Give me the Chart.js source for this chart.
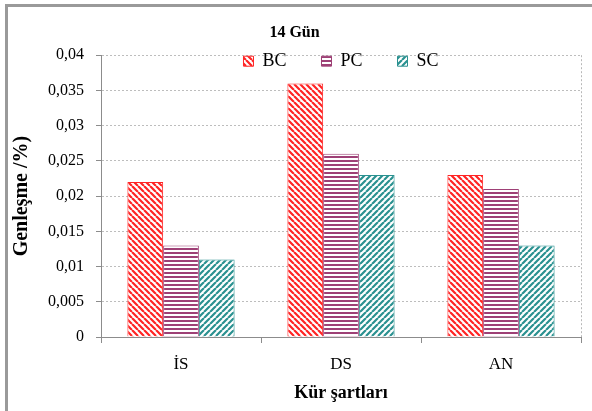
<!DOCTYPE html>
<html>
<head>
<meta charset="utf-8">
<script src="https://cdn.jsdelivr.net/npm/chart.js@4/dist/chart.umd.min.js"></script>
<style>
  html, body { margin: 0; padding: 0; background: #fff; }
  #wrap { position: relative; width: 592px; height: 411px; }
  #frame { position: absolute; left: 5px; top: 4px; right: 0; bottom: 0;
           border-left: 3px solid #9a9a9a; border-top: 3px solid #9a9a9a; pointer-events: none; }
  canvas { display: block; }
</style>
</head>
<body>
<div id="wrap">
  <canvas id="c" width="592" height="411"></canvas>
  <div id="frame"></div>
</div>
<script>
// ---- data ----
const categories = ['İS', 'DS', 'AN'];
const seriesNames = ['BC', 'PC', 'SC'];
const bcValues = [0.022, 0.036, 0.023];
const pcValues = [0.013, 0.026, 0.021];
const scValues = [0.011, 0.023, 0.013];
const yMin = 0, yMax = 0.04, yStep = 0.005;
const chartTitle = '14 Gün';
const xTitle = 'Kür şartları';
const yTitle = 'Genleşme /%)';

// ---- styles ----
const FONT = '"Liberation Serif", "Times New Roman", serif';
const RED = '#ff2424', PURPLE = '#9e4076', TEAL = '#2a9190';

function makePattern(color, kind) {
  const s = kind === 'h' ? 4 : 6;
  const c = document.createElement('canvas');
  c.width = s; c.height = s;
  const x = c.getContext('2d');
  x.fillStyle = '#fff';
  x.fillRect(0, 0, s, s);
  x.strokeStyle = color;
  x.fillStyle = color;
  x.lineWidth = 2.2;
  if (kind === 'h') {
    x.fillRect(0, 0, s, 2);
  } else {
    x.beginPath();
    for (let k = -1; k <= 1; k++) {
      if (kind === 'back') { x.moveTo(k * s, 0); x.lineTo(k * s + s, s); }
      else { x.moveTo(k * s, s); x.lineTo(k * s + s, 0); }
    }
    x.stroke();
  }
  return x.createPattern(c, 'repeat');
}

// legend sits inside the top of the plot area (as in the original), without taking layout room
const inPlotLegend = {
  id: 'inPlotLegend',
  beforeLayout(chart) {
    const lg = chart.legend;
    if (lg && !lg._inPlot) {
      const fit = lg.fit.bind(lg);
      lg.fit = function () { fit(); this.height = 0; };
      lg._inPlot = true;
    }
  },
  afterLayout(chart) {
    const lg = chart.legend;
    if (!lg) return;
    const pad = lg.options.labels.padding;
    const fs = lg.options.labels.font.size;
    const top = chart.chartArea.top + 6 - pad - fs / 2;
    lg.top = top;
    lg.height = 2 * pad + fs;
    lg.bottom = top + lg.height;
  },
  beforeDatasetsDraw(chart) {
    const {ctx, chartArea} = chart;
    ctx.save();
    ctx.strokeStyle = '#b8b8b8';
    ctx.lineWidth = 1;
    ctx.setLineDash([2, 2]);
    ctx.beginPath();
    ctx.moveTo(chartArea.right + 0.5, chartArea.top);
    ctx.lineTo(chartArea.right + 0.5, chartArea.bottom);
    ctx.stroke();
    ctx.restore();
  }
};

const fmt = v => (Math.round(v * 1000) / 1000).toString().replace('.', ',');

new Chart(document.getElementById('c'), {
  type: 'bar',
  data: {
    labels: categories,
    datasets: [
      { label: seriesNames[0], data: bcValues, backgroundColor: makePattern(RED, 'back'), borderColor: RED, borderWidth: 1 },
      { label: seriesNames[1], data: pcValues, backgroundColor: makePattern(PURPLE, 'h'), borderColor: PURPLE, borderWidth: 1 },
      { label: seriesNames[2], data: scValues, backgroundColor: makePattern(TEAL, 'fwd'), borderColor: TEAL, borderWidth: 1 }
    ]
  },
  options: {
    responsive: false,
    animation: false,
    layout: { padding: { left: 8, right: 11, top: 0, bottom: 0 } },
    datasets: { bar: { categoryPercentage: 0.67, barPercentage: 1.0 } },
    plugins: {
      title: {
        display: true, text: chartTitle, color: '#000',
        font: { family: FONT, size: 16, weight: 'bold' },
        padding: { top: 23, bottom: 13 }
      },
      legend: {
        position: 'top', align: 'center', fullSize: false,
        labels: {
          boxWidth: 10, boxHeight: 10, padding: 35, color: '#000',
          font: { family: FONT, size: 18 }
        }
      },
      tooltip: { enabled: false }
    },
    scales: {
      x: {
        grid: { offset: true, drawOnChartArea: false, drawTicks: true, tickLength: 6, tickColor: '#8c8c8c' },
        border: { color: '#8c8c8c' },
        ticks: { color: '#000', font: { family: FONT, size: 17 }, padding: 11 },
        title: { display: true, text: xTitle, color: '#000', font: { family: FONT, size: 18, weight: 'bold' }, padding: { top: 0, bottom: 7 } },
        afterFit(s) { s.height = 74; }
      },
      y: {
        min: yMin, max: yMax,
        ticks: { stepSize: yStep, color: '#000', font: { family: FONT, size: 16 }, padding: 12, callback: v => fmt(v) },
        grid: { color: '#bdbdbd', tickLength: 5, tickColor: '#8c8c8c' },
        border: { color: '#8c8c8c', dash: [2, 2] },
        title: { display: true, text: yTitle, color: '#000', font: { family: FONT, size: 20, weight: 'bold' }, padding: { top: 2, bottom: 0 } },
        afterFit(s) { s.width = 93; }
      }
    }
  },
  plugins: [inPlotLegend]
});
</script>
</body>
</html>
